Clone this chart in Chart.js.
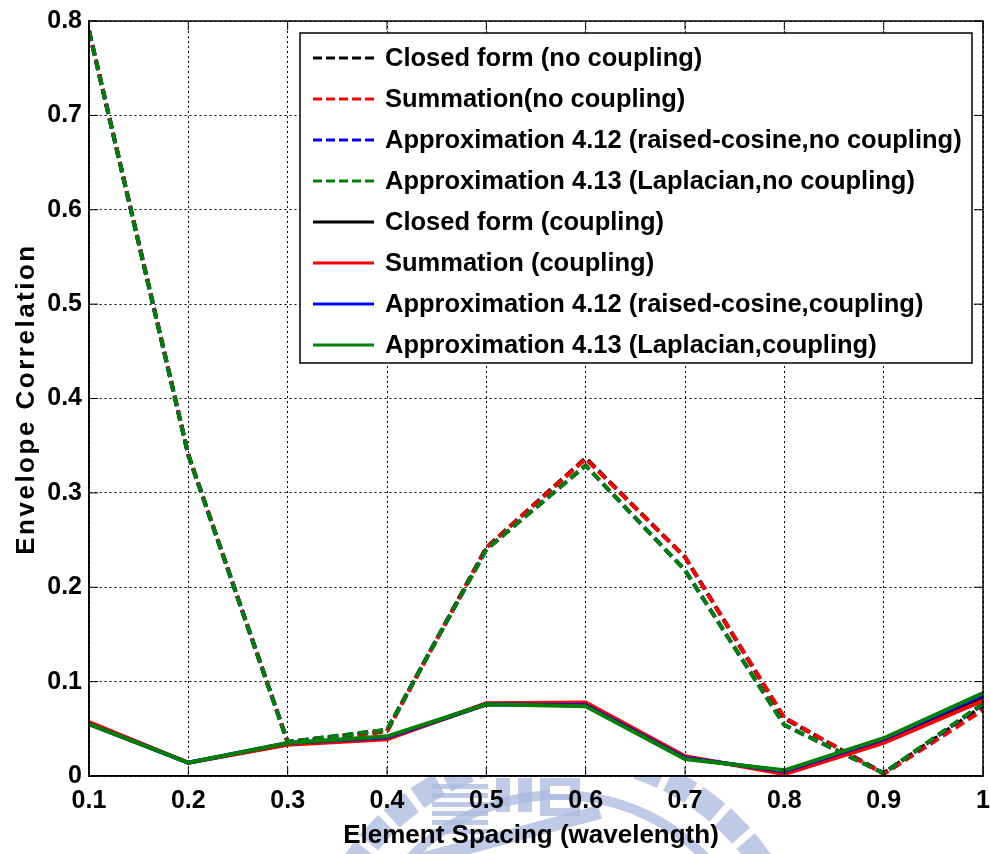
<!DOCTYPE html>
<html>
<head>
<meta charset="utf-8">
<title>Envelope Correlation vs Element Spacing</title>
<script src="https://cdn.jsdelivr.net/npm/chart.js@4.4.1/dist/chart.umd.min.js"></script>
<style>
  html, body { margin: 0; padding: 0; background: #ffffff; }
  #wrap { width: 990px; height: 854px; position: relative; }
</style>
</head>
<body>
<div id="wrap"><canvas id="corrChart" width="990" height="854"></canvas></div>
<script>
// Element spacing in wavelengths
const spacing = [0.1, 0.2, 0.3, 0.4, 0.5, 0.6, 0.7, 0.8, 0.9, 1.0];
const yTicks = [0, 0.1, 0.2, 0.3, 0.4, 0.5, 0.6, 0.7, 0.8];

// Envelope correlation without mutual coupling
const closedNoCoupling = [0.790, 0.340, 0.036, 0.048, 0.242, 0.337, 0.232, 0.061, 0.003, 0.074];
const summationNoCoupling = [0.790, 0.341, 0.036, 0.047, 0.242, 0.336, 0.232, 0.062, 0.002, 0.070];
const raisedCosNoCoupling = [0.789, 0.340, 0.036, 0.049, 0.240, 0.329, 0.218, 0.054, 0.003, 0.076];
const laplacianNoCoupling = [0.789, 0.340, 0.036, 0.049, 0.240, 0.329, 0.218, 0.054, 0.003, 0.077];

// Envelope correlation with mutual coupling
const closedCoupling = [0.056, 0.014, 0.034, 0.040, 0.076, 0.076, 0.020, 0.004, 0.037, 0.083];
const summationCoupling = [0.057, 0.014, 0.033, 0.039, 0.077, 0.078, 0.021, 0.002, 0.035, 0.080];
const raisedCosCoupling = [0.055, 0.014, 0.035, 0.041, 0.076, 0.075, 0.019, 0.005, 0.039, 0.086];
const laplacianCoupling = [0.055, 0.014, 0.035, 0.042, 0.076, 0.074, 0.018, 0.006, 0.040, 0.088];

const FONT = "'Liberation Sans', Arial, Helvetica, sans-serif";
const DASH = [10, 5];

document.addEventListener("DOMContentLoaded", function () {
  const ctx = document.getElementById("corrChart").getContext("2d");

  function series(label, values, color, dashed) {
    return {
      label: label,
      data: values.map((v, i) => ({ x: spacing[i], y: v })),
      borderColor: color,
      backgroundColor: color,
      borderWidth: 4,
      borderDash: dashed ? DASH : [],
      pointRadius: 0,
      tension: 0,
      fill: false,
    };
  }

  const datasets = [
    series("Closed form (no coupling)", closedNoCoupling, "#000000", true),
    series("Summation(no coupling)", summationNoCoupling, "#ff0000", true),
    series("Approximation 4.12 (raised-cosine,no coupling)", raisedCosNoCoupling, "#0000ff", true),
    series("Approximation 4.13 (Laplacian,no coupling)", laplacianNoCoupling, "#008000", true),
    series("Closed form (coupling)", closedCoupling, "#000000", false),
    series("Summation (coupling)", summationCoupling, "#ff0000", false),
    series("Approximation 4.12 (raised-cosine,coupling)", raisedCosCoupling, "#0000ff", false),
    series("Approximation 4.13 (Laplacian,coupling)", laplacianCoupling, "#008000", false),
  ];
  // later series are drawn on top of earlier ones
  datasets.forEach((ds, i) => (ds.order = datasets.length - i));

  // faint seal printed behind the figure, hidden by the white axes area
  const sealPlugin = {
    id: "seal",
    beforeDraw(chart) {
      const c = chart.ctx;
      const a = chart.chartArea;
      c.save();
      c.fillStyle = "#ffffff";
      c.fillRect(0, 0, chart.width, chart.height);
      const col = "rgba(170,186,222,0.75)";
      const cx = 558, cy = 1000;
      c.strokeStyle = col;
      c.fillStyle = col;
      // outer toothed ring
      c.lineWidth = 24;
      c.setLineDash([26, 7]);
      c.beginPath();
      c.arc(cx, cy, 246, Math.PI * 1.05, Math.PI * 1.95);
      c.stroke();
      c.setLineDash([]);
      // inner ring
      c.lineWidth = 10;
      c.beginPath();
      c.arc(cx, cy, 205, Math.PI * 1.08, Math.PI * 1.92);
      c.stroke();
      // striped block and letter panels
      for (let k = 0; k < 6; k++) {
        c.fillRect(432, 784 + k * 9, 56, 5);
      }
      c.fillRect(496, 778, 14, 34);
      c.fillRect(518, 778, 14, 34);
      c.fillRect(540, 778, 40, 38);
      c.fillStyle = "#ffffff";
      c.fillRect(550, 786, 20, 8);
      c.fillRect(550, 800, 20, 8);
      c.fillStyle = col;
      // diagonal bar
      c.lineWidth = 14;
      c.beginPath();
      c.moveTo(420, 860);
      c.lineTo(600, 812);
      c.stroke();

      // white axes background
      c.fillStyle = "#ffffff";
      c.fillRect(a.left, a.top, a.right - a.left, a.bottom - a.top);
      c.restore();
    },
  };

  // closed axes box with inward tick marks
  const framePlugin = {
    id: "frame",
    afterDatasetsDraw(chart) {
      const c = chart.ctx;
      const a = chart.chartArea;
      const xs = chart.scales.x;
      const ys = chart.scales.y;
      const len = 9;
      c.save();
      c.strokeStyle = "#000000";
      c.lineWidth = 1.5;
      c.setLineDash([]);
      c.strokeRect(a.left, a.top, a.right - a.left, a.bottom - a.top);
      c.lineWidth = 1;
      c.beginPath();
      spacing.forEach((v) => {
        const px = xs.getPixelForValue(v);
        c.moveTo(px, a.bottom);
        c.lineTo(px, a.bottom - len);
        c.moveTo(px, a.top);
        c.lineTo(px, a.top + len);
      });
      yTicks.forEach((v) => {
        const py = ys.getPixelForValue(v);
        c.moveTo(a.left, py);
        c.lineTo(a.left + len, py);
        c.moveTo(a.right, py);
        c.lineTo(a.right - len, py);
      });
      c.stroke();
      c.restore();
    },
  };

  // boxed legend inside the axes plus the axis titles
  const legendPlugin = {
    id: "boxLegend",
    afterDraw(chart) {
      const c = chart.ctx;
      const box = { x: 300, y: 33, w: 672, h: 330 };
      c.save();
      c.fillStyle = "#ffffff";
      c.fillRect(box.x, box.y, box.w, box.h);
      c.strokeStyle = "#000000";
      c.lineWidth = 1.5;
      c.strokeRect(box.x, box.y, box.w, box.h);

      c.font = "bold 25.5px " + FONT;
      c.textBaseline = "middle";
      c.textAlign = "left";
      chart.data.datasets.forEach((ds, i) => {
        const yy = 58 + i * 41;
        c.strokeStyle = ds.borderColor;
        c.lineWidth = 3;
        c.setLineDash(ds.borderDash.length ? [9, 4] : []);
        c.beginPath();
        c.moveTo(313, yy);
        c.lineTo(374, yy);
        c.stroke();
        c.setLineDash([]);
        c.fillStyle = "#000000";
        c.fillText(ds.label, 385, yy + 1);
      });

      // axis titles
      c.fillStyle = "#000000";
      c.font = "bold 26px " + FONT;
      c.textAlign = "center";
      c.textBaseline = "alphabetic";
      c.fillText("Element Spacing (wavelength)", 531, 843);

      c.save();
      c.translate(34, 399);
      c.rotate(-Math.PI / 2);
      c.letterSpacing = "2.5px";
      c.fillText("Envelope Correlation", 0, 0);
      c.restore();
      c.restore();
    },
  };

  const tickFont = { family: FONT, size: 25, weight: "bold" };

  new Chart(ctx, {
    type: "line",
    data: { datasets: datasets },
    options: {
      responsive: false,
      animation: false,
      layout: { padding: { top: 21, right: 7, left: 0, bottom: 0 } },
      plugins: {
        legend: { display: false },
        tooltip: { enabled: false },
      },
      scales: {
        x: {
          type: "linear",
          min: 0.1,
          max: 1.0,
          afterFit: (scale) => {
            scale.height = 78;
            scale.paddingLeft = 0;
            scale.paddingRight = 0;
          },
          afterBuildTicks: (scale) => {
            scale.ticks = spacing.map((v) => ({ value: v }));
          },
          ticks: {
            color: "#000000",
            font: tickFont,
            padding: 10,
            maxRotation: 0,
            autoSkip: false,
            callback: (v) => String(+v.toFixed(1)),
          },
          grid: { color: "#000000", lineWidth: 1, drawTicks: false },
          border: { display: true, color: "#000000", width: 1.5, dash: [2, 3] },
        },
        y: {
          type: "linear",
          min: 0,
          max: 0.8,
          afterFit: (scale) => {
            scale.width = 89;
            scale.paddingTop = 0;
            scale.paddingBottom = 0;
          },
          afterBuildTicks: (scale) => {
            scale.ticks = yTicks.map((v) => ({ value: v }));
          },
          ticks: {
            color: "#000000",
            font: tickFont,
            padding: 7,
            autoSkip: false,
            callback: (v) => String(+v.toFixed(1)),
          },
          grid: { color: "#000000", lineWidth: 1, drawTicks: false },
          border: { display: true, color: "#000000", width: 1.5, dash: [2, 3] },
        },
      },
    },
    plugins: [sealPlugin, framePlugin, legendPlugin],
  });
});
</script>
</body>
</html>
